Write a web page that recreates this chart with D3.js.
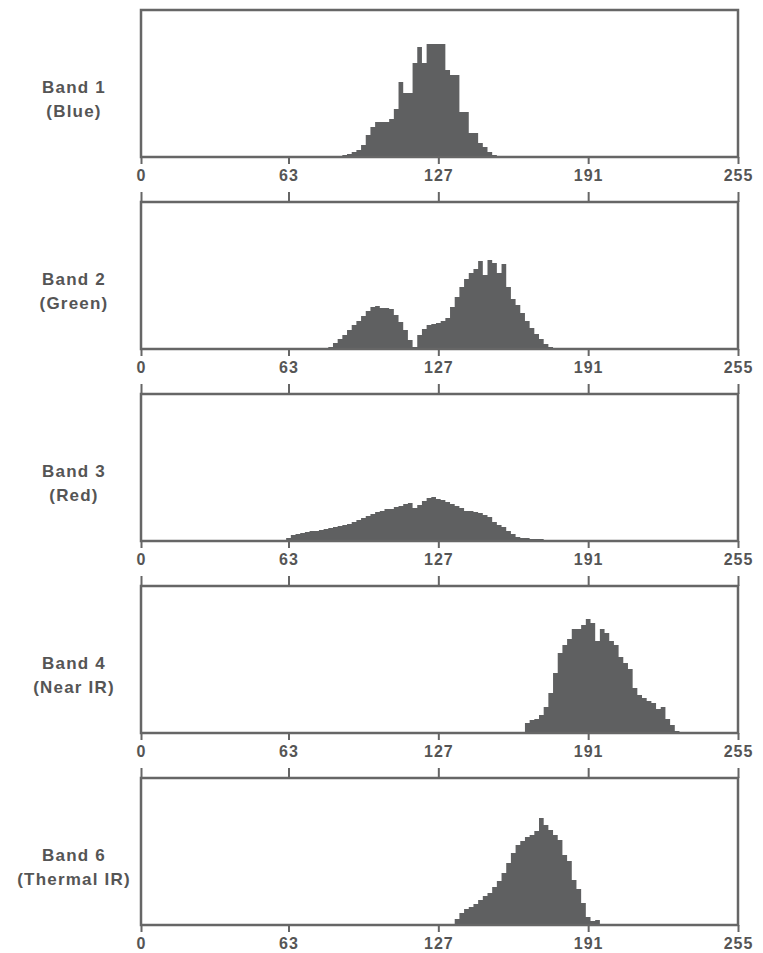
<!DOCTYPE html>
<html lang="en">
<head>
    <meta charset="UTF-8">
    <title>Landsat TM band histograms</title>
    <style>
        body {
            margin: 0;
            background-color: #ffffff;
        }
        .tick text {
            font-family: "Liberation Sans", Arial, sans-serif;
            font-weight: bold;
            font-size: 16px;
            letter-spacing: 1px;
            fill: #555;
        }
        .band-label {
            font-family: "Liberation Sans", Arial, sans-serif;
            font-weight: bold;
            font-size: 17px;
            letter-spacing: 1.2px;
            fill: #555;
        }
    </style>
</head>
<body>
    <div id="container"></div>

    <script src="https://d3js.org/d3.v7.min.js"></script>
    <script>
        // Band names and subtitles
        const bandNames = ["Band 1", "Band 2", "Band 3", "Band 4", "Band 6"];
        const bandSubtitles = ["(Blue)", "(Green)", "(Red)", "(Near IR)", "(Thermal IR)"];

        // x axis ticks (brightness values)
        const tickValues = [0, 63, 127, 191, 255];

        // histogram bins are 2 brightness values wide; counts in relative units
        const binWidth = 2;

        const band1Start = 86;
        const band1Counts = [2, 3, 5, 7, 12, 22, 30, 35, 35, 35, 38, 48, 75, 64, 64, 94, 110, 94, 113, 113,
            113, 113, 87, 82, 82, 45, 45, 24, 24, 14, 10, 5, 2];

        const band2Start = 80;
        const band2Counts = [2, 6, 10, 14, 19, 24, 28, 33, 38, 42, 43, 41, 41, 40, 34, 27, 19, 9, 2, 14,
            20, 24, 25, 26, 28, 31, 42, 52, 62, 70, 76, 80, 88, 74, 89, 86, 76, 85, 62, 50,
            44, 36, 28, 21, 15, 10, 5, 2];

        const band3Start = 60;
        const band3Counts = [1, 3, 6, 7, 8, 9, 10, 10, 11, 12, 13, 14, 15, 16, 17, 19, 21, 23, 25, 27,
            29, 30, 32, 32, 34, 35, 37, 38, 33, 36, 40, 43, 44, 42, 41, 39, 37, 35, 33, 30,
            30, 29, 28, 26, 24, 19, 16, 14, 10, 7, 4, 3, 3, 2, 2, 2, 1];

        const band4Start = 162;
        const band4Counts = [1, 10, 13, 14, 18, 26, 40, 60, 80, 88, 94, 104, 104, 108, 114, 110, 92, 104, 100, 92,
            88, 76, 70, 64, 45, 38, 35, 32, 30, 24, 26, 14, 8, 2, 1, 1, 1, 1];

        const band5Start = 132;
        const band5Counts = [1, 6, 12, 16, 18, 21, 25, 29, 32, 38, 44, 52, 62, 72, 80, 84, 88, 90, 94, 107,
            100, 95, 90, 85, 70, 64, 45, 36, 22, 8, 4, 5, 1];

        const bandStarts = [band1Start, band2Start, band3Start, band4Start, band5Start];
        const bandCounts = [band1Counts, band2Counts, band3Counts, band4Counts, band5Counts];

        document.addEventListener('DOMContentLoaded', () => {
            const width = 763;
            const height = 953;
            const left = 141;
            const right = 738;
            const panelH = 147;
            const firstTop = 10;
            const step = 192;
            const yMax = 147;

            const svg = d3.select("#container")
                .append("svg")
                .attr("width", width)
                .attr("height", height);

            const x = d3.scaleLinear().domain([0, 255]).range([left, right]);
            const y = d3.scaleLinear().domain([0, yMax]).range([panelH, 0]);

            const area = d3.area()
                .curve(d3.curveStepAfter)
                .x(d => x(d[0]))
                .y0(panelH)
                .y1(d => y(d[1]));

            bandNames.forEach((name, i) => {
                const top = firstTop + i * step;
                const g = svg.append("g").attr("transform", `translate(0,${top})`);

                // histogram points, closed at the end of the last bin
                const start = bandStarts[i];
                const counts = bandCounts[i];
                const pts = counts.map((c, k) => [start + k * binWidth, c]);
                pts.push([start + counts.length * binWidth, 0]);

                g.append("path")
                    .datum(pts)
                    .attr("d", area)
                    .attr("fill", "#5f6061");

                // frame
                g.append("rect")
                    .attr("x", left)
                    .attr("y", 0)
                    .attr("width", right - left)
                    .attr("height", panelH)
                    .attr("fill", "none")
                    .attr("stroke", "#666")
                    .attr("stroke-width", 2.5);

                // bottom axis with labels
                const bottom = g.append("g")
                    .attr("transform", `translate(0,${panelH})`)
                    .call(d3.axisBottom(x).tickValues(tickValues).tickSize(7).tickPadding(6).tickFormat(d3.format("d")));
                bottom.select(".domain").remove();
                bottom.selectAll(".tick line").attr("stroke", "#666").attr("stroke-width", 2);

                // top axis ticks only (not on the first panel)
                if (i > 0) {
                    const topAxis = g.append("g")
                        .call(d3.axisTop(x).tickValues(tickValues).tickSize(10).tickFormat(""));
                    topAxis.select(".domain").remove();
                    topAxis.selectAll(".tick line").attr("stroke", "#666").attr("stroke-width", 2);
                }

                // band labels
                g.append("text")
                    .attr("class", "band-label")
                    .attr("x", 74)
                    .attr("y", panelH / 2 + 9)
                    .attr("text-anchor", "middle")
                    .text(name);
                g.append("text")
                    .attr("class", "band-label")
                    .attr("x", 74)
                    .attr("y", panelH / 2 + 33)
                    .attr("text-anchor", "middle")
                    .text(bandSubtitles[i]);
            });
        });
    </script>
</body>
</html>
